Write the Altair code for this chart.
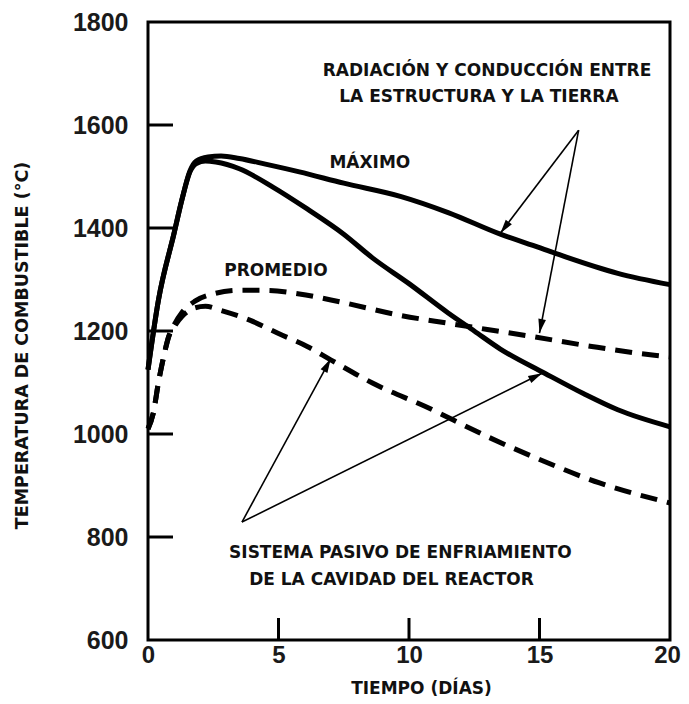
import math
import altair as alt
import pandas as pd

# ---------------- data ----------------
# Radiación y conducción entre la estructura y la tierra
rad_max_day = [0, 0.4, 1.0, 1.3, 1.6, 1.85, 2.3, 2.8, 3.5, 4.5, 5.8, 7.5, 9.7, 11.5, 13.5, 15, 16, 18, 20]
rad_max_temp = [1125, 1260, 1390, 1455, 1510, 1530, 1538, 1540, 1535, 1524, 1509, 1487, 1461, 1430, 1388, 1362, 1344, 1312, 1290]
rad_avg_day = [0, 0.2, 0.4, 0.6, 0.8, 1.0, 1.3, 1.8, 2.5, 3.5, 4.5, 5.8, 7.4, 9.7, 11.5, 13, 14.75, 17, 19.4, 20]
rad_avg_temp = [1010, 1040, 1100, 1150, 1190, 1212, 1236, 1258, 1272, 1279, 1279, 1272, 1256, 1230, 1215, 1203, 1189, 1170, 1153, 1150]

# Sistema pasivo de enfriamiento de la cavidad del reactor
rccs_max_day = [0, 0.4, 1.0, 1.3, 1.6, 1.85, 2.2, 2.6, 3.5, 4.8, 6.1, 7.5, 8.6, 10, 11.5, 12.5, 13.5, 15.2, 16.7, 18, 20]
rccs_max_temp = [1125, 1260, 1390, 1455, 1508, 1525, 1530, 1528, 1515, 1479, 1437, 1388, 1342, 1292, 1235, 1200, 1165, 1118, 1078, 1047, 1014]
rccs_avg_day = [0, 0.2, 0.4, 0.6, 0.8, 1.0, 1.3, 1.8, 2.2, 2.8, 3.9, 5, 6.1, 7, 8.6, 10.9, 11.7, 13, 14.75, 17.3, 20]
rccs_avg_temp = [1010, 1040, 1100, 1150, 1190, 1208, 1228, 1245, 1248, 1240, 1221, 1195, 1170, 1144, 1099, 1047, 1027, 995, 956, 905, 866]

x_ticks = [0, 5, 10, 15, 20]
y_ticks = [600, 800, 1000, 1200, 1400, 1600, 1800]
x_inner_ticks = [5, 10, 15]
y_inner_ticks = [800, 1000, 1200, 1400, 1600]

labels = ["RADIACIÓN Y CONDUCCIÓN ENTRE", "LA ESTRUCTURA Y LA TIERRA", "MÁXIMO", "PROMEDIO",
          "SISTEMA PASIVO DE ENFRIAMIENTO", "DE LA CAVIDAD DEL REACTOR"]
label_day = [12.99, 12.68, 8.5, 4.9, 9.67, 9.33]
label_temp = [1705, 1655, 1526, 1316, 769, 717]

# arrows: start -> tip
arrow_x = [16.5, 16.5, 3.6, 3.6]
arrow_y = [1590, 1590, 829, 829]
arrow_x2 = [13.5, 15.0, 7.0, 15.1]
arrow_y2 = [1390, 1196, 1146, 1118]

# ---------------- layout ----------------
W, H = 522, 618
X_DOM = [0, 20]
Y_DOM = [600, 1800]
FONT = "DejaVu Sans"

xs = alt.Scale(domain=X_DOM, nice=False, zero=False)
ys = alt.Scale(domain=Y_DOM, nice=False, zero=False)

rows = []
for name, d, t, dash in [("rad_max", rad_max_day, rad_max_temp, "solid"),
                         ("rccs_max", rccs_max_day, rccs_max_temp, "solid"),
                         ("rad_avg", rad_avg_day, rad_avg_temp, "dash"),
                         ("rccs_avg", rccs_avg_day, rccs_avg_temp, "dash")]:
    for a, b in zip(d, t):
        rows.append({"day": a, "temp": b, "serie": name, "tipo": dash})
df = pd.DataFrame(rows)

x_axis = alt.Axis(values=x_ticks, format="d", ticks=False, tickSize=0, domain=False, grid=False,
                  labelFont="Liberation Sans", labelFontSize=24, labelFontWeight="bold",
                  labelColor="#1a1a1a", labelPadding=3, labelFlush=False, labelOverlap=False,
                  labelOffset={"condition": {"test": "datum.value == 20", "value": -3}, "value": 0},
                  title="TIEMPO (DÍAS)", titleFont=FONT, titleFontSize=17, titleFontWeight="bold",
                  titleColor="#111", titleX=273, titleY=48, titleBaseline="middle", titleAlign="center")
y_axis = alt.Axis(values=y_ticks, format="d", ticks=False, tickSize=0, domain=False, grid=False,
                  labelFont="Liberation Sans", labelFontSize=25, labelFontWeight="bold",
                  labelColor="#1a1a1a", labelPadding=20, labelFlush=False, labelOverlap=False,
                  title="TEMPERATURA DE COMBUSTIBLE (°C)", titleFont=FONT, titleFontSize=17.5,
                  titleFontWeight="bold", titleColor="#111", titleX=-126, titleY=323,
                  titleBaseline="middle", titleAlign="center", titleAngle=270)

base = alt.Chart(df)
solid = base.transform_filter(alt.datum.tipo == "solid").mark_line(
    color="black", strokeWidth=5, interpolate="monotone", strokeCap="butt"
).encode(
    x=alt.X("day:Q", scale=xs, axis=x_axis),
    y=alt.Y("temp:Q", scale=ys, axis=y_axis),
    detail="serie:N",
)
dashed = base.transform_filter(alt.datum.tipo == "dash").mark_line(
    color="black", strokeWidth=5, interpolate="monotone", strokeDash=[17, 10], strokeCap="butt"
).encode(
    x=alt.X("day:Q", scale=xs),
    y=alt.Y("temp:Q", scale=ys),
    detail="serie:N",
)

ytick_df = pd.DataFrame({"v": y_inner_ticks})
xtick_df = pd.DataFrame({"v": x_inner_ticks})
yticks = alt.Chart(ytick_df).mark_rule(color="black", strokeWidth=3).encode(
    y=alt.Y("v:Q", scale=ys), x=alt.value(0), x2=alt.value(25))
xticks = alt.Chart(xtick_df).mark_rule(color="black", strokeWidth=3).encode(
    x=alt.X("v:Q", scale=xs), y=alt.value(H), y2=alt.value(H - 22))

lab_df = pd.DataFrame({"t": labels, "x": label_day, "y": label_temp})
texts = alt.Chart(lab_df).mark_text(
    font=FONT, fontSize=17, fontWeight="bold", color="#111", align="center", baseline="middle"
).encode(x=alt.X("x:Q", scale=xs), y=alt.Y("y:Q", scale=ys), text="t:N")

sx = W / (X_DOM[1] - X_DOM[0])
sy = H / (Y_DOM[1] - Y_DOM[0])
angles = []
for a, b, c, d in zip(arrow_x, arrow_y, arrow_x2, arrow_y2):
    dx = (c - a) * sx
    dy = -(d - b) * sy
    angles.append(math.degrees(math.atan2(dx, -dy)) % 360)
arr_df = pd.DataFrame({"x": arrow_x, "y": arrow_y, "x2": arrow_x2, "y2": arrow_y2, "ang": angles})
arrows = alt.Chart(arr_df).mark_rule(color="black", strokeWidth=1.6).encode(
    x=alt.X("x:Q", scale=xs), y=alt.Y("y:Q", scale=ys), x2="x2:Q", y2="y2:Q")
heads = alt.Chart(arr_df).mark_point(
    shape="M0,0L-0.55,2L0.55,2Z", filled=True, color="black", opacity=1, size=196, strokeWidth=0
).encode(x=alt.X("x2:Q", scale=xs), y=alt.Y("y2:Q", scale=ys), angle=alt.Angle("ang:Q", scale=None))

chart = alt.layer(solid, dashed, yticks, xticks, arrows, heads, texts).properties(
    width=W, height=H,
    padding={"left": 140, "top": 14, "right": 11, "bottom": 56},
    autosize=alt.AutoSizeParams(type="none"),
    background="white",
).configure_view(stroke="black", strokeWidth=3)

chart.save("out.html", embed_options={"renderer": "svg", "actions": False})
